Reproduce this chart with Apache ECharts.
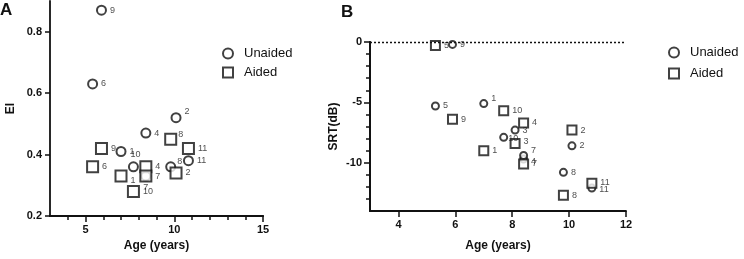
<!DOCTYPE html>
<html>
<head>
<meta charset="utf-8">
<script src="https://cdn.jsdelivr.net/npm/echarts@6/dist/echarts.min.js"></script>
<style>
  html, body { margin: 0; padding: 0; background: #fff; }
  #chart { width: 744px; height: 259px; }
</style>
</head>
<body>
<div id="chart"></div>
<script>
// participant numbers 1..11 and their age (years)
const participants = [1, 2, 3, 4, 5, 6, 7, 8, 9, 10, 11];
const ages = [7.0, 10.1, 8.1, 8.4, 5.3, 5.4, 8.4, 9.8, 5.9, 7.7, 10.8];

// panel A: EI (null = not shown)
const eiUnaided = [0.41, 0.52, null, 0.47, null, 0.63, 0.33, 0.36, 0.87, 0.36, 0.38];
const eiAided = [0.33, 0.34, null, 0.36, null, 0.36, 0.33, 0.45, 0.42, 0.28, 0.42];

// panel B: SRT (dB)
const srtUnaided = [-5.1, -8.6, -7.3, -9.7, -5.3, null, -9.4, -10.8, -0.2, -7.9, -12.1];
const srtAided = [-9.0, -7.3, -8.4, -6.7, -0.3, null, -10.1, -12.7, -6.4, -5.7, -11.7];

// ticks
const ticksAx = [5, 10, 15];
const minorAx = [4, 5, 6, 7, 8, 9, 10, 11, 12, 13, 14, 15];
const ticksAy = [0.2, 0.4, 0.6, 0.8];
const ticksBx = [4, 6, 8, 10, 12];
const ticksBy = [0, -5, -10];
const minorBy = [0, -1, -2, -3, -4, -5, -6, -7, -8, -9, -10, -11, -12, -13];

const FONT = '"Liberation Sans", Arial, sans-serif';
const INK = '#111';

// label nudges for crowded points (panel|series|id -> offset / position)
const labelNudge = {
  'A|U|2': { offset: [0, -6] },
  'A|U|8': { offset: [-2, -5] },
  'A|U|10': { position: 'top', offset: [2, 1] },
  'A|U|7': { position: 'bottom', offset: [0, -2] },
  'A|S|8': { offset: [-2, -5] },
  'A|S|1': { offset: [0, 4] },
  'B|U|1': { offset: [0, -5] },
  'B|U|7': { offset: [0, -5] },
  'B|U|4': { offset: [0, 2] },
  'B|U|10': { offset: [-3, 1] },
  'B|S|3': { offset: [0, -2] },
  'B|U|11': { offset: [0, 1] },
  'B|S|11': { offset: [0, -1] }
};

function buildData(panel, kind, values) {
  const out = [];
  participants.forEach(function(id, i) {
    if (values[i] == null) return;
    const nudge = labelNudge[panel + '|' + kind + '|' + id] || {};
    out.push({
      value: [ages[i], values[i]],
      label: { position: nudge.position || 'right', offset: nudge.offset || [0, 0] },
      pid: id
    });
  });
  return out;
}

const labelStyle = {
  show: true,
  fontSize: 9,
  fontFamily: FONT,
  color: '#222',
  distance: 3,
  formatter: function(p) { return p.data.pid; }
};

const hollow = { color: '#fff', borderColor: INK, borderWidth: 2 };

function tick(len, values) {
  return { show: true, length: len, customValues: values, lineStyle: { color: INK, width: 1.5 } };
}

function makeAxis(grid, pos, min, max, labels, ticks, extra) {
  return Object.assign({
    type: 'value', gridIndex: grid, position: pos, min: min, max: max,
    axisLine: { show: true, onZero: false, lineStyle: { color: INK, width: 1.8 } },
    axisTick: tick(4, ticks),
    axisLabel: { show: labels.length > 0, customValues: labels, color: INK, fontWeight: 'bold', fontSize: 11, fontFamily: FONT, margin: 8 },
    splitLine: { show: false },
    nameTextStyle: { color: INK, fontWeight: 'bold', fontSize: 12, fontFamily: FONT }
  }, extra || {});
}

const chart = echarts.init(document.getElementById('chart'), null, { renderer: 'canvas' });

const legendText = { fontSize: 13, fontFamily: FONT, color: INK, padding: [0, 0, 0, 6] };

const option = {
  animation: false,
  title: [
    { text: 'A', left: 0, top: 2, padding: 0, textStyle: { fontSize: 17, fontWeight: 'bold', fontFamily: FONT, color: INK } },
    { text: 'B', left: 341, top: 4, padding: 0, textStyle: { fontSize: 17, fontWeight: 'bold', fontFamily: FONT, color: INK } }
  ],
  grid: [
    { left: 50, top: 1, width: 213, height: 215 },
    { left: 370, top: 42, width: 256, height: 169 }
  ],
  legend: [
    {
      left: 217, top: 42, orient: 'vertical', itemGap: 6, itemWidth: 10, itemHeight: 10,
      textStyle: legendText, selectedMode: false,
      data: [
        { name: 'Unaided', icon: 'circle', itemStyle: hollow },
        { name: 'Aided', icon: 'rect', itemStyle: hollow }
      ]
    },
    {
      left: 663, top: 41, orient: 'vertical', itemGap: 8, itemWidth: 10, itemHeight: 10,
      textStyle: legendText, selectedMode: false,
      data: [
        { name: 'Unaided', icon: 'circle', itemStyle: hollow },
        { name: 'Aided', icon: 'rect', itemStyle: hollow }
      ]
    }
  ],
  xAxis: [
    makeAxis(0, 'bottom', 3, 15, ticksAx, minorAx, { name: 'Age (years)', nameLocation: 'middle', nameGap: 24 }),
    makeAxis(0, 'bottom', 3, 15, [], ticksAx, { axisTick: tick(6, ticksAx) }),
    makeAxis(1, 'bottom', 3, 12, ticksBx, ticksBx, { name: 'Age (years)', nameLocation: 'middle', nameGap: 29, axisTick: tick(6, ticksBx) })
  ],
  yAxis: [
    makeAxis(0, 'left', 0.2, 0.9, ticksAy, ticksAy, { name: 'EI', nameLocation: 'middle', nameGap: 33, axisTick: tick(5, ticksAy) }),
    makeAxis(1, 'left', -14, 0, ticksBy, minorBy, { name: 'SRT(dB)', nameLocation: 'middle', nameGap: 30 }),
    makeAxis(1, 'left', -14, 0, [], ticksBy, { axisTick: tick(6, ticksBy) })
  ],
  series: [
    {
      name: 'Unaided', type: 'scatter', xAxisIndex: 0, yAxisIndex: 0, clip: false,
      symbol: 'circle', symbolSize: 9, itemStyle: hollow, label: labelStyle,
      data: buildData('A', 'U', eiUnaided)
    },
    {
      name: 'Aided', type: 'scatter', xAxisIndex: 0, yAxisIndex: 0, clip: false,
      symbol: 'rect', symbolSize: 11, itemStyle: hollow, label: labelStyle,
      data: buildData('A', 'S', eiAided)
    },
    {
      name: 'Unaided', type: 'scatter', xAxisIndex: 2, yAxisIndex: 1, clip: false,
      symbol: 'circle', symbolSize: 7, itemStyle: hollow, label: labelStyle,
      data: buildData('B', 'U', srtUnaided),
      markLine: {
        silent: true, symbol: 'none', label: { show: false },
        lineStyle: { color: INK, type: [2, 2], width: 1.4 },
        data: [{ yAxis: 0 }]
      }
    },
    {
      name: 'Aided', type: 'scatter', xAxisIndex: 2, yAxisIndex: 1, clip: false,
      symbol: 'rect', symbolSize: 9, itemStyle: hollow, label: labelStyle,
      data: buildData('B', 'S', srtAided)
    }
  ]
};

chart.setOption(option);
</script>
</body>
</html>
